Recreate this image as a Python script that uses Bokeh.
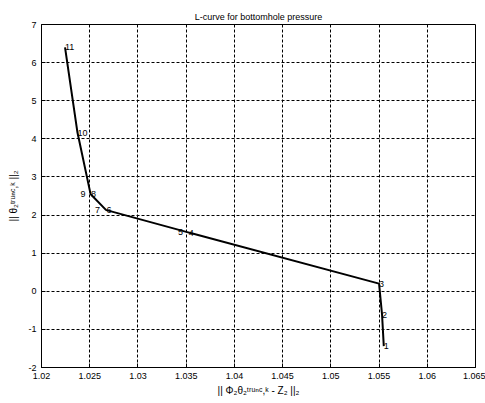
from bokeh.plotting import figure
from bokeh.models import Range1d, FixedTicker, ColumnDataSource
from bokeh.core.properties import value
from bokeh.embed import file_html
from bokeh.resources import INLINE

# ---------------- data ----------------
title_text = "L-curve for bottomhole pressure"
x_label_text = "|| Φ₂θ₂ᵗʳᵘⁿᶜ,ᵏ - Z₂ ||₂"
y_label_text = "|| θ₂ᵗʳᵘⁿᶜ,ᵏ ||₂"
point_labels = ["1", "2", "3", "4", "5", "6", "7", "8", "9", "10", "11"]
residual_norm = [1.05549, 1.05531, 1.05500, 1.03527, 1.03520, 1.02674, 1.02668,
                 1.02513, 1.02509, 1.02373, 1.02244]
solution_norm = [-1.44, -0.61, 0.20, 1.54, 1.545, 2.13, 2.135, 2.54, 2.55, 4.165, 6.40]
x_ticks = [1.02, 1.025, 1.03, 1.035, 1.04, 1.045, 1.05, 1.055, 1.06, 1.065]
x_tick_labels = ["1.02", "1.025", "1.03", "1.035", "1.04", "1.045", "1.05", "1.055", "1.06", "1.065"]
y_ticks = [-2, -1, 0, 1, 2, 3, 4, 5, 6, 7]
y_tick_labels = ["-2", "-1", "0", "1", "2", "3", "4", "5", "6", "7"]

# label horizontal nudges (px) so that coincident points stay readable
label_dx = [0, 0, 0, 0, -10, 0, -11, 0, -10, 0, 0]

FONT = "Liberation Sans"

p = figure(width=485, height=403, output_backend="svg", toolbar_location=None,
           x_range=Range1d(1.02, 1.065), y_range=Range1d(-2, 7),
           min_border_left=41, min_border_right=10, min_border_top=24, min_border_bottom=36)
p.title.text = title_text
p.title.align = "center"
p.title.text_font = FONT
p.title.text_font_size = "9px"
p.title.text_font_style = "normal"
p.title.text_color = "black"
p.title.standoff = 5
p.background_fill_color = "white"
p.border_fill_color = "white"
p.outline_line_color = "black"
p.outline_line_width = 1
p.outline_line_alpha = 1

for ax in (p.xaxis[0], p.yaxis[0]):
    ax.axis_line_color = "black"
    ax.major_tick_in = 4
    ax.major_tick_out = 0
    ax.minor_tick_in = 0
    ax.minor_tick_out = 0
    ax.major_tick_line_color = "black"
    ax.major_label_text_font = FONT
    ax.major_label_text_font_size = "9px"
    ax.major_label_text_color = "black"
    ax.major_label_standoff = 5
    ax.axis_label_text_font = FONT
    ax.axis_label_text_font_size = "10px"
    ax.axis_label_text_font_style = "normal"
    ax.axis_label_text_color = "black"

p.xaxis[0].ticker = FixedTicker(ticks=x_ticks)
p.xaxis[0].major_label_overrides = {t: s for t, s in zip(x_ticks, x_tick_labels)}
p.xaxis[0].axis_label = x_label_text
p.xaxis[0].axis_label_standoff = 3
p.yaxis[0].ticker = FixedTicker(ticks=y_ticks)
p.yaxis[0].major_label_overrides = {t: s for t, s in zip(y_ticks, y_tick_labels)}
p.yaxis[0].axis_label = y_label_text
p.yaxis[0].axis_label_standoff = 6

for g in p.grid:
    g.grid_line_color = "black"
    g.grid_line_dash = "3 2"
    g.grid_line_width = 1
    g.grid_line_alpha = 1

src = ColumnDataSource(dict(x=residual_norm, y=solution_norm, t=point_labels, dx=label_dx))
p.line("x", "y", source=src, line_color="black", line_width=2)
p.text("x", "y", text="t", source=src, x_offset="dx", text_font=value(FONT),
       text_font_size="9px", text_color="black", text_align="left", text_baseline="middle")

open("out.html", "w").write(file_html(p, INLINE))
